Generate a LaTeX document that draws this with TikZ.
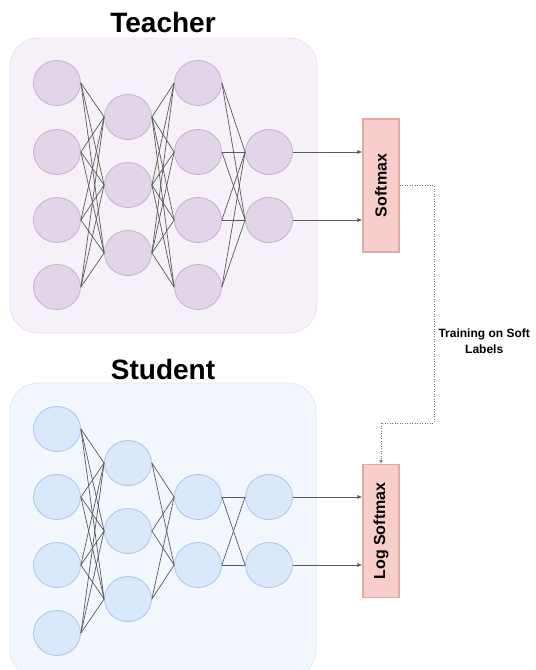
\documentclass[tikz,border=0pt]{standalone}
\usepackage{fontspec}
\setmainfont{Liberation Sans}
\usetikzlibrary{arrows.meta, positioning, shapes.geometric}
\definecolor{tchfill}{HTML}{E1D5E7}
\definecolor{tchline}{HTML}{C5B0D3}
\definecolor{tchbg}{HTML}{F6F1F8}
\definecolor{tchbgline}{HTML}{EAE1EF}
\definecolor{stdfill}{HTML}{DAE8FC}
\definecolor{stdline}{HTML}{A9C4EB}
\definecolor{stdbg}{HTML}{F2F7FE}
\definecolor{stdbgline}{HTML}{DEE8F6}
\definecolor{smfill}{HTML}{F8CECC}
\definecolor{smline}{HTML}{E4A8A5}
\tikzset{
  neuron/.style={ellipse, draw=#1line, fill=#1fill, minimum width=47pt,
                 minimum height=45pt, inner sep=0pt, line width=0.8pt},
  panel/.style={draw=#1bgline, fill=#1bg, rounded corners=28pt, line width=0.8pt},
  smbox/.style={draw=smline, fill=smfill, line width=1.2pt, rotate=90,
                minimum width=133pt, minimum height=36pt, inner sep=0pt,
                font=\bfseries\fontsize{16}{16}\selectfont},
  wire/.style={black!65, line width=0.7pt},
  outarrow/.style={wire, -{Latex[length=5pt, width=4pt]}},
  trainlink/.style={black!55, line width=1pt, dash pattern=on 1pt off 1.5pt,
                    -{Latex[length=4pt, width=3.5pt]}},
  title/.style={font=\bfseries\fontsize{28}{28}\selectfont},
  note/.style={font=\bfseries\fontsize{12}{16}\selectfont, align=center},
}

\begin{document}
\begin{tikzpicture}[x=1pt, y=-1pt]
  \clip (0,0) rectangle (536,670);

  % teacher
  \node[title] (tteacher) at (163,22) {Teacher};
  \draw[panel=tch] (10,38) rectangle (317,333);
  \foreach \i/\y in {1/83, 2/152, 3/220, 4/287} \node[neuron=tch] (ta\i) at (57,\y) {};
  \foreach \i/\y in {1/117, 2/185, 3/253} \node[neuron=tch] (tb\i) at (128,\y) {};
  \foreach \i/\y in {1/83, 2/152, 3/220, 4/287} \node[neuron=tch] (tc\i) at (198,\y) {};
  \foreach \i/\y in {1/152, 2/220} \node[neuron=tch] (td\i) at (269,\y) {};
  \foreach \i in {1,...,4} \foreach \j in {1,2,3} \draw[wire] (ta\i.east) -- (tb\j.west);
  \foreach \i in {1,2,3} \foreach \j in {1,...,4} \draw[wire] (tb\i.east) -- (tc\j.west);
  \foreach \i in {1,...,4} \foreach \j in {1,2} \draw[wire] (tc\i.east) -- (td\j.west);
  \node[smbox] (tsoftmax) at (381,185.5) {Softmax};
  \foreach \j in {1,2} \draw[outarrow] (td\j.east) -- (td\j.east -| tsoftmax.north);

  % student
  \node[title] (tstudent) at (163,369) {Student};
  \draw[panel=std] (10,383) rectangle (316,678);
  \foreach \i/\y in {1/429, 2/497, 3/565, 4/633} \node[neuron=std] (sa\i) at (57,\y) {};
  \foreach \i/\y in {1/463, 2/531, 3/599} \node[neuron=std] (sb\i) at (128,\y) {};
  \foreach \i/\y in {1/497, 2/565} \node[neuron=std] (sc\i) at (198,\y) {};
  \foreach \i/\y in {1/497, 2/565} \node[neuron=std] (sd\i) at (269,\y) {};
  \foreach \i in {1,...,4} \foreach \j in {1,2,3} \draw[wire] (sa\i.east) -- (sb\j.west);
  \foreach \i in {1,2,3} \foreach \j in {1,2} \draw[wire] (sb\i.east) -- (sc\j.west);
  \foreach \i in {1,2} \foreach \j in {1,2} \draw[wire] (sc\i.east) -- (sd\j.west);
  \node[smbox] (ssoftmax) at (381,531) {Log Softmax};
  \foreach \j in {1,2} \draw[outarrow] (sd\j.east) -- (sd\j.east -| ssoftmax.north);

  % soft labels
  \coordinate (bend) at (434,423);
  \draw[trainlink] (tsoftmax.south) -| (bend) -| (ssoftmax.east);
  \node[note, anchor=west] (softlbl) at (435,341) {Training on Soft\\Labels};
\end{tikzpicture}
\end{document}
